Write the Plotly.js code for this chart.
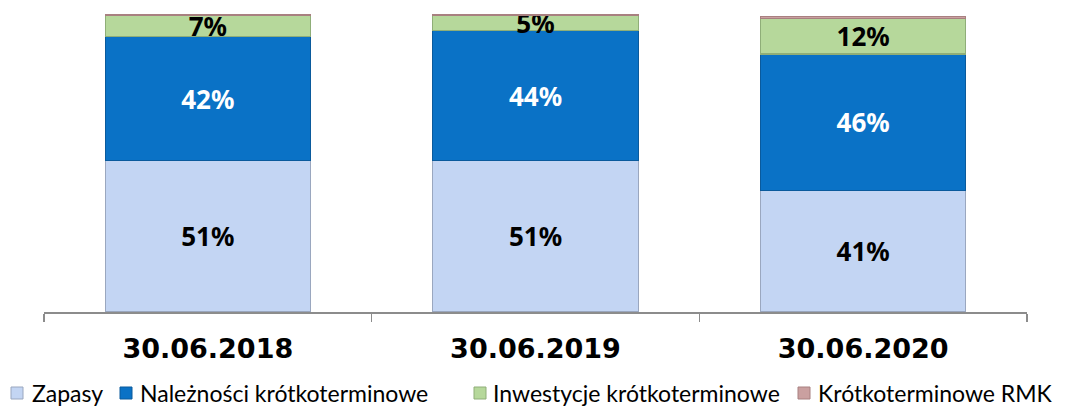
<!DOCTYPE html>
<html>
<head>
<meta charset="utf-8">
<script src="https://cdn.plot.ly/plotly-3.0.1.min.js"></script>
<style>html,body{margin:0;padding:0;background:#fff;}#chart{width:1089px;height:406px;}</style>
</head>
<body>
<div id="chart"></div>
<script>
const categories = ["30.06.2018", "30.06.2019", "30.06.2020"];
const zapasy = [51, 51, 41];
const naleznosci = [42, 44, 46];
const inwestycje = [7, 5, 12];
const rmk = [0.3, 0.3, 0.6];
const seriesNames = ["Zapasy", "Należności krótkoterminowe", "Inwestycje krótkoterminowe", "Krótkoterminowe RMK"];

const colors = ["#c3d5f3", "#0a72c6", "#b6d89b", "#caa0a0"];
const edge = ["#9aa7bf", "#0a5a9c", "#8fae78", "#a88080"];
const textColors = ["#000000", "#ffffff", "#000000", "#000000"];
const allValues = [zapasy, naleznosci, inwestycje, rmk];

const W = 1089, H = 406;
const M = { l: 44, r: 62, t: 14, b: 94 };
const plotW = W - M.l - M.r, plotH = H - M.t - M.b;
const px2x = p => (p - M.l) / plotW;
const py2y = p => (H - M.b - p) / plotH;

const traces = allValues.map((vals, i) => ({
  type: "bar",
  name: seriesNames[i],
  x: categories,
  y: vals,
  marker: { color: colors[i], line: { color: edge[i], width: 1.2 } },
  texttemplate: i < 3 ? "%{y:.0f}%" : "",
  textposition: i < 3 ? "inside" : "none",
  insidetextanchor: "middle",
  constraintext: "none",
  textangle: 0,
  insidetextfont: { family: "Noto Sans", size: 26, color: textColors[i], weight: "bold" },
  hoverinfo: "none",
  showlegend: false
}));

// custom legend (marker squares + labels) placed like the reference
const legendMarkerLeft = [11, 120, 474, 798];
const legendTextLeft = [31, 139, 492, 817];
const legendCenterY = 393;
const shapes = seriesNames.map((n, i) => ({
  type: "rect", xref: "paper", yref: "paper",
  x0: px2x(legendMarkerLeft[i]), x1: px2x(legendMarkerLeft[i] + 12),
  y0: py2y(legendCenterY + 6), y1: py2y(legendCenterY - 6),
  fillcolor: colors[i], line: { color: edge[i], width: 1 }
}));
const annotations = seriesNames.map((n, i) => ({
  text: n, xref: "paper", yref: "paper",
  x: px2x(legendTextLeft[i]), y: py2y(legendCenterY),
  xanchor: "left", yanchor: "middle", showarrow: false,
  borderpad: 0,
  font: { family: "Lato", size: 23, color: "#000000" }
}));

const layout = {
  width: W,
  height: H,
  margin: M,
  barmode: "stack",
  bargap: 0.373,
  paper_bgcolor: "#ffffff",
  plot_bgcolor: "#ffffff",
  showlegend: false,
  shapes: shapes,
  annotations: annotations,
  xaxis: {
    type: "category",
    showline: true,
    linecolor: "#8c8c8c",
    linewidth: 1.5,
    ticks: "outside",
    tickson: "boundaries",
    ticklen: 8,
    tickwidth: 1.5,
    tickcolor: "#8c8c8c",
    showgrid: false,
    tickfont: { family: "DejaVu Sans", size: 27, color: "#000000", weight: "bold" },
    ticklabelstandoff: 12
  },
  yaxis: {
    range: [0, 100.5],
    visible: false,
    showgrid: false,
    zeroline: false
  }
};

Plotly.newPlot("chart", traces, layout, { displayModeBar: false, staticPlot: true });
</script>
</body>
</html>
